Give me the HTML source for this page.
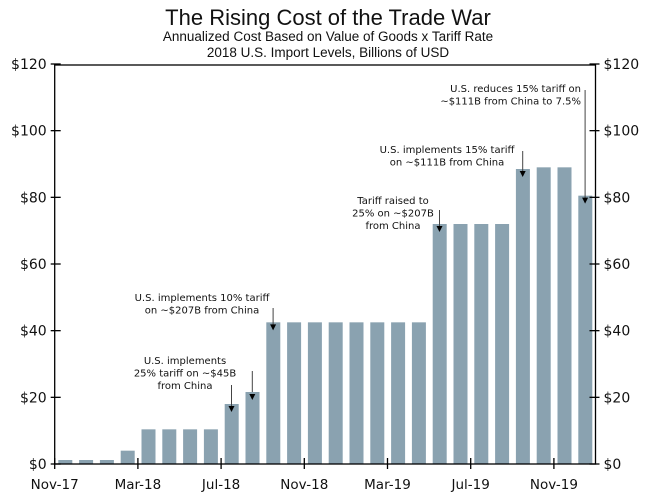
<!DOCTYPE html>
<html><head><meta charset="utf-8"><style>
body{margin:0;background:#fff}
svg text{font-family:"DejaVu Sans","Liberation Sans",sans-serif;fill:#111}
</style></head><body>
<svg id="c" width="656" height="497" viewBox="0 0 656 497">
<text x="328" y="25" text-anchor="middle" style="font-family:'Liberation Sans',sans-serif;font-size:22px">The Rising Cost of the Trade War</text>
<text x="328" y="41" text-anchor="middle" style="font-family:'Liberation Sans',sans-serif;font-size:13.5px">Annualized Cost Based on Value of Goods x Tariff Rate</text>
<text x="328" y="57" text-anchor="middle" style="font-family:'Liberation Sans',sans-serif;font-size:13.5px">2018 U.S. Import Levels, Billions of USD</text>
<g id="bars"></g>
<g id="axes"></g>
<g id="ann" font-size="10"></g>
</svg>
<script>
const categories=["Nov-17","Dec-17","Jan-18","Feb-18","Mar-18","Apr-18","May-18","Jun-18","Jul-18","Aug-18","Sep-18","Oct-18","Nov-18","Dec-18","Jan-19","Feb-19","Mar-19","Apr-19","May-19","Jun-19","Jul-19","Aug-19","Sep-19","Oct-19","Nov-19","Dec-19"];
const values=[1.2,1.2,1.2,4,10.4,10.4,10.4,10.4,18,21.6,42.5,42.5,42.5,42.5,42.5,42.5,42.5,42.5,72,72,72,72,88.5,89,89,80.5];
const yTicks=[0,20,40,60,80,100,120];
const xTickLabels=["Nov-17","Mar-18","Jul-18","Nov-18","Mar-19","Jul-19","Nov-19"];
const NS="http://www.w3.org/2000/svg";
const L=54.7,R=595.5,T=64,B=464,band=(R-L)/categories.length;
const y=v=>B-(v/120)*(B-T);
const xBand=i=>L+band*i;
function mk(tag,attrs,parent,txt){const e=document.createElementNS(NS,tag);for(const k in attrs)e.setAttribute(k,attrs[k]);if(txt!=null)e.textContent=txt;parent.appendChild(e);return e;}
const gb=document.getElementById('bars'),ga=document.getElementById('axes'),gn=document.getElementById('ann');
values.forEach((v,i)=>{
 const r=mk('rect',{x:xBand(i)+3.6,y:y(v),width:14,height:B-y(v),fill:'#8aa2b0'},gb);
 
 
});
const fr=mk('rect',{x:L,y:T+1,width:R-L,height:B-T-1,fill:'none',stroke:'#000','stroke-width':1.3},ga);


yTicks.forEach(t=>{
 const yy=y(t);
 mk('line',{x1:L-4,x2:L+6,y1:yy,y2:yy,stroke:'#000','stroke-width':1.3},ga);
 mk('line',{x1:R-6,x2:R+4,y1:yy,y2:yy,stroke:'#000','stroke-width':1.3},ga);
 const a=mk('text',{x:L-8,y:yy+5,'text-anchor':'end','font-size':14},ga,'$'+t);
 
 
 const b=mk('text',{x:R+8,y:yy+5,'font-size':14},ga,'$'+t);
 
 
});
xTickLabels.forEach(lab=>{
 const i=categories.indexOf(lab);const xx=xBand(i);
 mk('line',{x1:xx,x2:xx,y1:B-6,y2:B+5,stroke:'#000','stroke-width':1.3},ga);
 const t=mk('text',{x:xx,y:B+25,'text-anchor':'middle','font-size':13.5},ga,lab);
 
 
});
function note(lines,tx,ty,anchor,ax,ay1,idx,name){
 const g=mk('g',{},gn);
 
 
 lines.forEach((l,k)=>mk('text',{x:tx,y:ty+k*12.5,'text-anchor':anchor},g,l));
 const ay2=y(values[idx])+8;
 mk('line',{x1:ax,x2:ax,y1:ay1,y2:ay2-5,stroke:'#444','stroke-width':1},g);
 mk('path',{d:`M${ax-3},${ay2-6}L${ax+3},${ay2-6}L${ax},${ay2}Z`,fill:'#000'},g);
}
const cx=i=>xBand(i)+band/2;
note(["U.S. implements","25% tariff on ~$45B","from China"],185,364,'middle',cx(8),385,8,'annotation-jul-18');
mk('line',{x1:cx(9),x2:cx(9),y1:371,y2:392,stroke:'#444','stroke-width':1},gn);
mk('path',{d:`M${cx(9)-3},${y(values[9])+2}L${cx(9)+3},${y(values[9])+2}L${cx(9)},${y(values[9])+8}Z`,fill:'#000'},gn);
note(["U.S. implements 10% tariff","on ~$207B from China"],202,301,'middle',cx(10),308,10,'annotation-sep-18');
note(["Tariff raised to","25% on ~$207B","from China"],393,204,'middle',cx(18),210,18,'annotation-may-19');
note(["U.S. implements 15% tariff","on ~$111B from China"],447,153,'middle',cx(22),151,22,'annotation-sep-19');
note(["U.S. reduces 15% tariff on","~$111B from China to 7.5%"],581,92,'end',cx(25),90,25,'annotation-dec-19');
</script>
</body></html>
